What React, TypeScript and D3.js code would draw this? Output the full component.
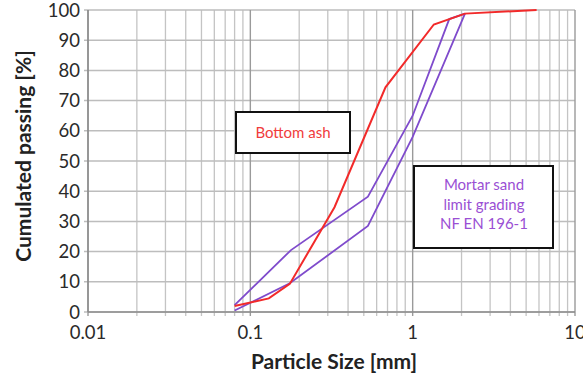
import React from "react";
import * as d3 from "d3";

const bottomAshSize = [0.08, 0.13, 0.175, 0.33, 0.68, 1.35, 2.1, 5.8];
const bottomAshPass = [2, 4.5, 9.3, 34.7, 74.4, 95.2, 98.8, 100];

const upperSize = [0.08, 0.178, 0.53, 1.0, 1.68, 2.1];
const upperPass = [2.3, 20.5, 38.2, 65, 97, 98.8];

const lowerSize = [0.08, 0.175, 0.53, 1.0, 2.1];
const lowerPass = [0.5, 9.5, 28.5, 58, 98.8];

const yTicks = [0, 10, 20, 30, 40, 50, 60, 70, 80, 90, 100];
const xMajor = [0.01, 0.1, 1, 10];
const xLabels = ["0.01", "0.1", "1", "10"];

const W = 583;
const H = 377;
const FONT = "Lato, 'Open Sans', sans-serif";

export default function App() {
  const x = d3.scaleLog().domain([0.01, 10]).range([88, 575]);
  const y = d3.scaleLinear().domain([0, 100]).range([312, 10]);

  const minor: number[] = [];
  for (let e = -2; e < 1; e++) {
    for (let k = 2; k <= 9; k++) minor.push(k * Math.pow(10, e));
  }

  const line = d3
    .line<[number, number]>()
    .x((d) => x(d[0]))
    .y((d) => y(d[1]));

  const ash = bottomAshSize.map((s, i) => [s, bottomAshPass[i]] as [number, number]);
  const up = upperSize.map((s, i) => [s, upperPass[i]] as [number, number]);
  const lo = lowerSize.map((s, i) => [s, lowerPass[i]] as [number, number]);

  const red = "#f22a2a";
  const purple = "#7f4bcc";
  const textPurple = "#9a4fd4";

  return (
    <svg
      width={W}
      height={H}
      style={{ position: "absolute", left: 0, top: 0, background: "#fff" }}
      fontFamily={FONT}
    >
      {minor.map((v, i) => (
        <line
          key={"mn" + i}
          x1={x(v)}
          x2={x(v)}
          y1={y(100)}
          y2={y(0) + 4}
          stroke="#c4c4c4"
          strokeWidth={1.3}
        />
      ))}
      {yTicks.map((t) => (
        <line
          key={"h" + t}
          x1={x(0.01) - 4}
          x2={x(10)}
          y1={y(t)}
          y2={y(t)}
          stroke="#bdbdbd"
          strokeWidth={1.5}
        />
      ))}
      {xMajor.map((v, i) => (
        <line
          key={"mj" + i}
          x1={x(v)}
          x2={x(v)}
          y1={y(100)}
          y2={y(0) + 4}
          stroke="#9a9a9a"
          strokeWidth={1.4}
        />
      ))}
      <line x1={x(0.01)} x2={x(10)} y1={y(0)} y2={y(0)} stroke="#8c8c8c" strokeWidth={1.5} />
      <line x1={x(0.01)} x2={x(0.01)} y1={y(0)} y2={y(100)} stroke="#8c8c8c" strokeWidth={1.5} />

      {yTicks.map((t) => (
        <text
          key={"yl" + t}
          x={80}
          y={y(t)}
          dy="0.36em"
          textAnchor="end"
          fontSize={18.5}
          fill="#2a2a2a"
        >
          {t}
        </text>
      ))}
      {xMajor.map((v, i) => (
        <text
          key={"xl" + i}
          x={x(v)}
          y={339}
          textAnchor="middle"
          fontSize={18.5}
          fill="#2a2a2a"
        >
          {xLabels[i]}
        </text>
      ))}

      <text
        x={334}
        y={369}
        textAnchor="middle"
        fontSize={21}
        fontWeight="bold"
        fill="#222"
      >
        Particle Size [mm]
      </text>
      <text
        transform={`translate(31,156) rotate(-90)`}
        textAnchor="middle"
        fontSize={21}
        fontWeight="bold"
        fill="#222"
      >
        Cumulated passing [%]
      </text>

      <path d={line(lo) || ""} fill="none" stroke={purple} strokeWidth={1.8} />
      <path d={line(up) || ""} fill="none" stroke={purple} strokeWidth={1.8} />
      <path d={line(ash) || ""} fill="none" stroke={red} strokeWidth={2} />

      <rect x={236} y={112} width={114} height={41} fill="#fff" stroke="#111" strokeWidth={2} />
      <text x={293} y={133} dy="0.35em" textAnchor="middle" fontSize={15} fill="#f03c3c">
        Bottom ash
      </text>

      <rect x={414} y={166} width={139} height={82} fill="#fff" stroke="#111" strokeWidth={2} />
      {["Mortar sand", "limit grading", "NF EN 196-1"].map((s, i) => (
        <text
          key={"m" + i}
          x={484}
          y={185 + i * 19.5}
          dy="0.35em"
          textAnchor="middle"
          fontSize={15}
          fill={textPurple}
        >
          {s}
        </text>
      ))}
    </svg>
  );
}
